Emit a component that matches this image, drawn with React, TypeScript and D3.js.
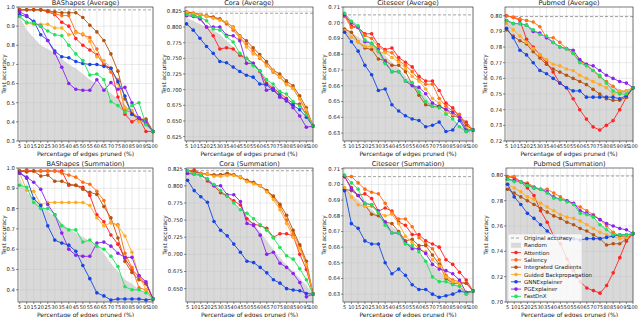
import React from "react";
import * as d3 from "d3";

// x values: share of edges pruned
const pruned = [5, 10, 15, 20, 25, 30, 35, 40, 45, 50, 55, 60, 65, 70, 75, 80, 85, 90, 95, 100];

const methods = [
  "Attention",
  "Saliency",
  "Integrated Gradients",
  "Guided Backpropagation",
  "GNNExplainer",
  "PGExplainer",
  "FastDnX",
];
const colors = ["#ff2424", "#ff6c14", "#b4530f", "#ffaa22", "#1546e4", "#8a22ee", "#20e05c"];

// series per panel, one row per method (same order as `methods`)
const baShapesAvg = [
  [0.985, 0.985, 0.985, 0.985, 0.975, 0.96, 0.92, 0.9, 0.835, 0.8, 0.775, 0.75, 0.7, 0.68, 0.53, 0.44, 0.4, 0.42, 0.35, 0.35],
  [0.985, 0.985, 0.985, 0.985, 0.98, 0.965, 0.955, 0.955, 0.87, 0.855, 0.84, 0.78, 0.7, 0.66, 0.62, 0.46, 0.45, 0.42, 0.41, 0.35],
  [0.985, 0.985, 0.985, 0.985, 0.98, 0.975, 0.97, 0.97, 0.97, 0.945, 0.905, 0.87, 0.825, 0.755, 0.665, 0.52, 0.44, 0.41, 0.415, 0.35],
  [0.95, 0.915, 0.91, 0.91, 0.91, 0.89, 0.89, 0.855, 0.865, 0.86, 0.82, 0.74, 0.72, 0.68, 0.6, 0.475, 0.46, 0.4, 0.4, 0.35],
  [0.96, 0.95, 0.925, 0.855, 0.825, 0.77, 0.74, 0.735, 0.715, 0.705, 0.7, 0.7, 0.69, 0.68, 0.61, 0.535, 0.44, 0.42, 0.39, 0.35],
  [0.975, 0.955, 0.92, 0.9, 0.825, 0.76, 0.685, 0.6, 0.57, 0.565, 0.565, 0.62, 0.565, 0.605, 0.57, 0.58, 0.5, 0.42, 0.4, 0.35],
  [0.95, 0.92, 0.915, 0.9, 0.875, 0.855, 0.85, 0.8, 0.755, 0.72, 0.645, 0.65, 0.62, 0.505, 0.485, 0.45, 0.485, 0.5, 0.385, 0.35],
];
const coraAvg = [
  [0.822, 0.82, 0.815, 0.8, 0.786, 0.765, 0.767, 0.765, 0.755, 0.75, 0.742, 0.729, 0.71, 0.702, 0.695, 0.686, 0.678, 0.677, 0.66, 0.642],
  [0.824, 0.822, 0.82, 0.817, 0.815, 0.812, 0.805, 0.795, 0.783, 0.773, 0.762, 0.75, 0.74, 0.728, 0.72, 0.71, 0.702, 0.685, 0.665, 0.642],
  [0.824, 0.822, 0.82, 0.818, 0.816, 0.813, 0.807, 0.8, 0.786, 0.778, 0.767, 0.756, 0.745, 0.731, 0.725, 0.714, 0.706, 0.69, 0.671, 0.642],
  [0.823, 0.821, 0.82, 0.817, 0.814, 0.811, 0.808, 0.799, 0.785, 0.768, 0.757, 0.752, 0.738, 0.73, 0.72, 0.708, 0.702, 0.685, 0.668, 0.642],
  [0.805, 0.795, 0.782, 0.769, 0.758, 0.745, 0.743, 0.736, 0.729, 0.723, 0.72, 0.709, 0.708, 0.699, 0.69, 0.682, 0.675, 0.668, 0.656, 0.642],
  [0.818, 0.817, 0.813, 0.8, 0.8, 0.8, 0.787, 0.786, 0.778, 0.742, 0.742, 0.73, 0.699, 0.702, 0.688, 0.684, 0.671, 0.658, 0.64, 0.642],
  [0.82, 0.818, 0.816, 0.81, 0.797, 0.795, 0.785, 0.776, 0.758, 0.75, 0.738, 0.73, 0.716, 0.709, 0.697, 0.693, 0.681, 0.674, 0.66, 0.642],
];
const citeseerAvg = [
  [0.705, 0.698, 0.697, 0.693, 0.693, 0.686, 0.683, 0.684, 0.678, 0.675, 0.672, 0.666, 0.663, 0.663, 0.657, 0.649, 0.646, 0.64, 0.637, 0.632],
  [0.704, 0.697, 0.697, 0.692, 0.69, 0.685, 0.682, 0.681, 0.676, 0.673, 0.669, 0.664, 0.661, 0.661, 0.652, 0.647, 0.644, 0.642, 0.635, 0.632],
  [0.696, 0.694, 0.688, 0.684, 0.683, 0.677, 0.676, 0.673, 0.673, 0.669, 0.661, 0.654, 0.648, 0.647, 0.647, 0.645, 0.641, 0.64, 0.635, 0.632],
  [0.695, 0.691, 0.688, 0.685, 0.685, 0.681, 0.681, 0.678, 0.675, 0.671, 0.666, 0.663, 0.658, 0.652, 0.649, 0.643, 0.642, 0.639, 0.633, 0.632],
  [0.694, 0.688, 0.682, 0.673, 0.667, 0.657, 0.658, 0.648, 0.644, 0.641, 0.639, 0.638, 0.634, 0.635, 0.637, 0.631, 0.632, 0.638, 0.631, 0.632],
  [0.705, 0.7, 0.697, 0.688, 0.687, 0.683, 0.675, 0.669, 0.669, 0.663, 0.66, 0.659, 0.655, 0.649, 0.647, 0.645, 0.643, 0.64, 0.632, 0.632],
  [0.706, 0.701, 0.698, 0.689, 0.687, 0.682, 0.674, 0.669, 0.669, 0.663, 0.662, 0.656, 0.65, 0.647, 0.646, 0.642, 0.639, 0.634, 0.631, 0.632],
];
const pubmedAvg = [
  [0.8, 0.799, 0.797, 0.785, 0.78, 0.775, 0.77, 0.764, 0.757, 0.754, 0.747, 0.74, 0.734, 0.729, 0.727, 0.73, 0.733, 0.74, 0.748, 0.754],
  [0.8, 0.799, 0.798, 0.797, 0.796, 0.793, 0.786, 0.786, 0.783, 0.779, 0.776, 0.771, 0.769, 0.765, 0.761, 0.758, 0.755, 0.751, 0.752, 0.754],
  [0.791, 0.787, 0.784, 0.782, 0.777, 0.773, 0.769, 0.766, 0.764, 0.762, 0.76, 0.758, 0.756, 0.753, 0.75, 0.747, 0.746, 0.746, 0.748, 0.754],
  [0.795, 0.791, 0.787, 0.783, 0.779, 0.775, 0.772, 0.769, 0.768, 0.766, 0.765, 0.762, 0.76, 0.758, 0.756, 0.754, 0.75, 0.752, 0.752, 0.754],
  [0.792, 0.786, 0.778, 0.775, 0.77, 0.765, 0.763, 0.76, 0.757, 0.754, 0.752, 0.752, 0.748, 0.748, 0.748, 0.748, 0.748, 0.747, 0.749, 0.754],
  [0.797, 0.795, 0.795, 0.794, 0.79, 0.789, 0.786, 0.783, 0.78, 0.779, 0.778, 0.772, 0.769, 0.768, 0.765, 0.762, 0.76, 0.758, 0.757, 0.754],
  [0.797, 0.795, 0.795, 0.794, 0.791, 0.788, 0.787, 0.783, 0.78, 0.779, 0.776, 0.77, 0.768, 0.765, 0.762, 0.757, 0.752, 0.75, 0.75, 0.754],
];
const baShapesSum = [
  [0.985, 0.99, 0.985, 0.985, 0.985, 0.985, 0.985, 0.915, 0.915, 0.905, 0.865, 0.77, 0.735, 0.67, 0.625, 0.555, 0.5, 0.465, 0.43, 0.355],
  [0.985, 0.985, 0.985, 0.985, 0.985, 0.985, 0.975, 0.965, 0.955, 0.93, 0.92, 0.885, 0.84, 0.73, 0.72, 0.58, 0.51, 0.41, 0.4, 0.355],
  [0.985, 0.98, 0.985, 0.96, 0.965, 0.935, 0.935, 0.92, 0.915, 0.895, 0.88, 0.87, 0.81, 0.755, 0.655, 0.54, 0.485, 0.45, 0.43, 0.355],
  [0.975, 0.89, 0.885, 0.82, 0.83, 0.83, 0.83, 0.83, 0.83, 0.83, 0.815, 0.755, 0.715, 0.73, 0.715, 0.665, 0.585, 0.47, 0.4, 0.355],
  [0.975, 0.95, 0.85, 0.815, 0.715, 0.645, 0.63, 0.62, 0.59, 0.52, 0.455, 0.385, 0.37, 0.35, 0.355, 0.355, 0.355, 0.355, 0.35, 0.355],
  [0.975, 0.955, 0.93, 0.895, 0.82, 0.77, 0.68, 0.6, 0.57, 0.565, 0.565, 0.63, 0.635, 0.615, 0.58, 0.56, 0.56, 0.47, 0.44, 0.355],
  [0.915, 0.905, 0.83, 0.8, 0.8, 0.77, 0.715, 0.695, 0.695, 0.635, 0.645, 0.615, 0.6, 0.565, 0.515, 0.415, 0.4, 0.4, 0.385, 0.355],
];
const coraSum = [
  [0.822, 0.823, 0.818, 0.807, 0.8, 0.79, 0.785, 0.778, 0.772, 0.752, 0.744, 0.742, 0.738, 0.725, 0.73, 0.73, 0.727, 0.7, 0.678, 0.642],
  [0.822, 0.82, 0.818, 0.817, 0.815, 0.816, 0.818, 0.816, 0.812, 0.807, 0.804, 0.8, 0.793, 0.783, 0.77, 0.75, 0.73, 0.712, 0.685, 0.642],
  [0.822, 0.82, 0.818, 0.817, 0.816, 0.816, 0.818, 0.816, 0.813, 0.808, 0.805, 0.8, 0.793, 0.785, 0.773, 0.757, 0.735, 0.714, 0.69, 0.642],
  [0.822, 0.818, 0.817, 0.817, 0.814, 0.814, 0.815, 0.815, 0.813, 0.806, 0.803, 0.8, 0.791, 0.78, 0.765, 0.745, 0.725, 0.708, 0.685, 0.642],
  [0.808, 0.793, 0.784, 0.776, 0.748, 0.735, 0.727, 0.715, 0.703, 0.69, 0.688, 0.681, 0.673, 0.663, 0.658, 0.65, 0.648, 0.647, 0.643, 0.642],
  [0.818, 0.817, 0.815, 0.81, 0.8, 0.8, 0.787, 0.787, 0.777, 0.745, 0.742, 0.728, 0.7, 0.703, 0.687, 0.681, 0.672, 0.659, 0.638, 0.642],
  [0.822, 0.817, 0.815, 0.81, 0.802, 0.793, 0.785, 0.775, 0.765, 0.76, 0.752, 0.743, 0.735, 0.724, 0.71, 0.698, 0.693, 0.679, 0.663, 0.642],
];
const citeseerSum = [
  [0.705, 0.698, 0.693, 0.694, 0.691, 0.683, 0.685, 0.683, 0.676, 0.674, 0.668, 0.668, 0.664, 0.662, 0.66, 0.652, 0.649, 0.644, 0.639, 0.632],
  [0.705, 0.705, 0.701, 0.697, 0.695, 0.694, 0.688, 0.682, 0.678, 0.678, 0.673, 0.666, 0.662, 0.659, 0.652, 0.642, 0.639, 0.638, 0.637, 0.632],
  [0.697, 0.696, 0.693, 0.687, 0.681, 0.68, 0.676, 0.675, 0.67, 0.664, 0.665, 0.661, 0.661, 0.655, 0.649, 0.64, 0.637, 0.637, 0.637, 0.632],
  [0.698, 0.692, 0.687, 0.686, 0.686, 0.682, 0.68, 0.681, 0.675, 0.667, 0.663, 0.659, 0.657, 0.652, 0.648, 0.641, 0.638, 0.637, 0.63, 0.632],
  [0.696, 0.675, 0.672, 0.664, 0.662, 0.662, 0.65, 0.643, 0.646, 0.642, 0.636, 0.633, 0.633, 0.63, 0.628, 0.629, 0.63, 0.632, 0.631, 0.632],
  [0.705, 0.697, 0.693, 0.688, 0.687, 0.683, 0.676, 0.669, 0.669, 0.663, 0.659, 0.659, 0.656, 0.649, 0.646, 0.645, 0.643, 0.639, 0.631, 0.632],
  [0.706, 0.701, 0.697, 0.688, 0.687, 0.682, 0.674, 0.669, 0.669, 0.662, 0.661, 0.657, 0.651, 0.641, 0.638, 0.638, 0.636, 0.635, 0.63, 0.632],
];
const pubmedSum = [
  [0.799, 0.798, 0.795, 0.79, 0.784, 0.772, 0.763, 0.752, 0.746, 0.734, 0.725, 0.716, 0.711, 0.709, 0.707, 0.713, 0.723, 0.735, 0.748, 0.754],
  [0.799, 0.799, 0.795, 0.794, 0.791, 0.789, 0.789, 0.786, 0.783, 0.78, 0.777, 0.775, 0.772, 0.769, 0.765, 0.76, 0.755, 0.752, 0.751, 0.754],
  [0.789, 0.786, 0.783, 0.78, 0.777, 0.774, 0.771, 0.768, 0.766, 0.763, 0.761, 0.758, 0.756, 0.753, 0.75, 0.745, 0.746, 0.746, 0.75, 0.754],
  [0.793, 0.79, 0.787, 0.783, 0.781, 0.778, 0.775, 0.772, 0.769, 0.767, 0.766, 0.764, 0.761, 0.758, 0.755, 0.753, 0.752, 0.75, 0.751, 0.754],
  [0.793, 0.783, 0.777, 0.77, 0.766, 0.761, 0.756, 0.752, 0.751, 0.75, 0.75, 0.749, 0.75, 0.75, 0.75, 0.751, 0.752, 0.753, 0.753, 0.754],
  [0.797, 0.796, 0.795, 0.793, 0.79, 0.789, 0.787, 0.783, 0.781, 0.78, 0.778, 0.772, 0.77, 0.768, 0.765, 0.762, 0.76, 0.758, 0.757, 0.754],
  [0.797, 0.795, 0.795, 0.792, 0.79, 0.789, 0.786, 0.782, 0.781, 0.779, 0.777, 0.77, 0.769, 0.767, 0.761, 0.757, 0.753, 0.753, 0.753, 0.754],
];

// random-pruning baseline (upper edge of the grey area)
const randomBaAvg = [0.95, 0.88, 0.84, 0.8, 0.78, 0.76, 0.73, 0.7, 0.68, 0.65, 0.62, 0.6, 0.58, 0.55, 0.52, 0.49, 0.45, 0.42, 0.39, 0.35];
const randomCoraAvg = [0.815, 0.81, 0.805, 0.8, 0.795, 0.788, 0.778, 0.768, 0.757, 0.748, 0.738, 0.726, 0.716, 0.705, 0.695, 0.685, 0.675, 0.665, 0.654, 0.643];
const randomCiteAvg = [0.697, 0.694, 0.691, 0.688, 0.686, 0.683, 0.679, 0.675, 0.671, 0.666, 0.662, 0.658, 0.653, 0.648, 0.645, 0.641, 0.638, 0.635, 0.632, 0.631];
const randomPubAvg = [0.797, 0.796, 0.795, 0.793, 0.791, 0.789, 0.786, 0.783, 0.781, 0.779, 0.777, 0.773, 0.769, 0.766, 0.762, 0.758, 0.755, 0.753, 0.752, 0.754];
const randomBaSum = [0.95, 0.88, 0.85, 0.82, 0.79, 0.76, 0.73, 0.7, 0.68, 0.66, 0.64, 0.62, 0.58, 0.53, 0.49, 0.45, 0.43, 0.4, 0.38, 0.35];
const randomCoraSum = [0.82, 0.816, 0.812, 0.806, 0.8, 0.793, 0.785, 0.775, 0.765, 0.755, 0.745, 0.733, 0.72, 0.707, 0.695, 0.685, 0.675, 0.665, 0.655, 0.642];
const randomCiteSum = [0.698, 0.694, 0.69, 0.687, 0.684, 0.68, 0.677, 0.673, 0.67, 0.665, 0.66, 0.656, 0.652, 0.648, 0.645, 0.641, 0.638, 0.635, 0.632, 0.632];
const randomPubSum = [0.797, 0.796, 0.795, 0.793, 0.791, 0.789, 0.786, 0.783, 0.78, 0.778, 0.776, 0.773, 0.77, 0.766, 0.762, 0.758, 0.755, 0.753, 0.753, 0.754];

const originalAcc = [0.985, 0.822, 0.705, 0.7995];

const titles = [
  "BAShapes (Average)", "Cora (Average)", "Citeseer (Average)", "Pubmed (Average)",
  "BAShapes (Summation)", "Cora (Summation)", "Citeseer (Summation)", "Pubmed (Summation)",
];

// box = [left, right, top, bottom]; yl = offset of the y label baseline from the left spine
const panels = [
  { series: baShapesAvg, random: randomBaAvg, orig: originalAcc[0], y: [0.3, 1.0], ticks: d3.range(0.3, 1.001, 0.1), fmt: ".1f", box: [18, 153, 7, 141], yl: 12.5 },
  { series: coraAvg, random: randomCoraAvg, orig: originalAcc[1], y: [0.618, 0.832], ticks: d3.range(0.625, 0.8251, 0.025), fmt: ".3f", box: [185, 313, 7, 141], yl: 19.5 },
  { series: citeseerAvg, random: randomCiteAvg, orig: originalAcc[2], y: [0.625, 0.71], ticks: d3.range(0.63, 0.7101, 0.01), fmt: ".2f", box: [343, 473, 7, 141], yl: 17 },
  { series: pubmedAvg, random: randomPubAvg, orig: originalAcc[3], y: [0.72, 0.8056], ticks: d3.range(0.72, 0.8001, 0.01), fmt: ".2f", box: [505, 633, 7, 141], yl: 18 },
  { series: baShapesSum, random: randomBaSum, orig: originalAcc[0], y: [0.34, 1.0], ticks: d3.range(0.4, 1.001, 0.1), fmt: ".1f", box: [18, 153, 168, 302], yl: 12.5 },
  { series: coraSum, random: randomCoraSum, orig: originalAcc[1], y: [0.6305, 0.826], ticks: d3.range(0.65, 0.8251, 0.025), fmt: ".3f", box: [186, 313, 168, 302], yl: 19.5 },
  { series: citeseerSum, random: randomCiteSum, orig: originalAcc[2], y: [0.625, 0.7105], ticks: d3.range(0.63, 0.7101, 0.01), fmt: ".2f", box: [343, 473, 168, 302], yl: 17 },
  { series: pubmedSum, random: randomPubSum, orig: originalAcc[3], y: [0.7, 0.8058], ticks: d3.range(0.7, 0.8001, 0.02), fmt: ".2f", box: [506, 633, 168, 302], yl: 18 },
];

const font = "DejaVu Sans, sans-serif";

function Panel({ p, title, showLegend }: any) {
  const [l, r, t, b] = p.box;
  const x = d3.scaleLinear().domain([3.8, 100]).range([l, r]);
  const y = d3.scaleLinear().domain(p.y).range([b, t]);
  const fmt = d3.format(p.fmt);
  const line = d3.line<number>().x((_, i) => x(pruned[i])).y((d) => y(d));
  const area = d3.area<number>().x((_, i) => x(pruned[i])).y0(b).y1((d) => y(d));

  return (
    <g>
      <rect x={l} y={t} width={r - l} height={b - t} fill="white" />
      <path d={area(p.random) || ""} fill="#d9d9d9" />
      {pruned.map((v) => (
        <line key={`gx${v}`} x1={x(v)} x2={x(v)} y1={t} y2={b} stroke="#bfbfbf" strokeOpacity={0.45} strokeWidth={0.7} />
      ))}
      {p.ticks.map((v: number) => (
        <line key={`gy${v}`} x1={l} x2={r} y1={y(v)} y2={y(v)} stroke="#bfbfbf" strokeOpacity={0.45} strokeWidth={0.7} />
      ))}
      <line x1={l} x2={r} y1={y(p.orig)} y2={y(p.orig)} stroke="#999" strokeWidth={0.9} strokeDasharray="3,2" />
      {p.series.map((s: number[], k: number) => (
        <g key={`s${k}`}>
          <path d={line(s) || ""} fill="none" stroke={colors[k]} strokeWidth={0.9} />
          {s.map((d, i) => (
            <circle key={i} cx={x(pruned[i])} cy={y(d)} r={1.8} fill={colors[k]} />
          ))}
        </g>
      ))}
      <rect x={l} y={t} width={r - l} height={b - t} fill="none" stroke="#222" strokeWidth={0.6} />
      {pruned.map((v) => (
        <g key={`tx${v}`}>
          <line x1={x(v)} x2={x(v)} y1={b} y2={b + 2} stroke="#222" strokeWidth={0.5} />
          <text x={x(v)} y={b + 7.3} fontSize={5} textAnchor="middle" fontFamily={font} fill="#222">{v}</text>
        </g>
      ))}
      {p.ticks.map((v: number) => (
        <g key={`ty${v}`}>
          <line x1={l - 2} x2={l} y1={y(v)} y2={y(v)} stroke="#222" strokeWidth={0.5} />
          <text x={l - 3} y={y(v) + 1.9} fontSize={5.3} textAnchor="end" fontFamily={font} fill="#222">{fmt(v)}</text>
        </g>
      ))}
      <text x={(l + r) / 2} y={t - 1.8} fontSize={6.6} textAnchor="middle" fontFamily={font} fill="#222">{title}</text>
      <text x={(l + r) / 2} y={b + 15} fontSize={6} textAnchor="middle" fontFamily={font} fill="#222">Percentage of edges pruned (%)</text>
      <text transform={`translate(${l - p.yl},${(t + b) / 2}) rotate(-90)`} fontSize={5.8} textAnchor="middle" fontFamily={font} fill="#222">Test accuracy</text>
      {showLegend && <Legend x0={l + 2} y0={b - 68} />}
    </g>
  );
}

function Legend({ x0, y0 }: any) {
  const rowH = 7.3;
  return (
    <g>
      <rect x={x0} y={y0} width={74} height={67} rx={1.5} fill="white" fillOpacity={0.8} stroke="#ccc" strokeWidth={0.5} />
      <line x1={x0 + 3} x2={x0 + 13} y1={y0 + 4} y2={y0 + 4} stroke="#999" strokeWidth={0.9} strokeDasharray="3,2" />
      <text x={x0 + 16} y={y0 + 6} fontSize={5.5} fontFamily={font} fill="#222">Original accuracy</text>
      <rect x={x0 + 3} y={y0 + 4 + rowH - 2.5} width={10} height={5} fill="#d9d9d9" />
      <text x={x0 + 16} y={y0 + 6 + rowH} fontSize={5.5} fontFamily={font} fill="#222">Random</text>
      {methods.map((m, k) => {
        const yy = y0 + 4 + rowH * (k + 2);
        return (
          <g key={m}>
            <line x1={x0 + 3} x2={x0 + 13} y1={yy} y2={yy} stroke={colors[k]} strokeWidth={0.9} />
            <circle cx={x0 + 8} cy={yy} r={1.8} fill={colors[k]} />
            <text x={x0 + 16} y={yy + 2} fontSize={5.5} fontFamily={font} fill="#222">{m}</text>
          </g>
        );
      })}
    </g>
  );
}

export default function App() {
  return (
    <svg width={640} height={317} style={{ position: "absolute", left: 0, top: 0, background: "white" }}>
      {panels.map((p, i) => (
        <Panel key={titles[i]} p={p} title={titles[i]} showLegend={i === 7} />
      ))}
    </svg>
  );
}
